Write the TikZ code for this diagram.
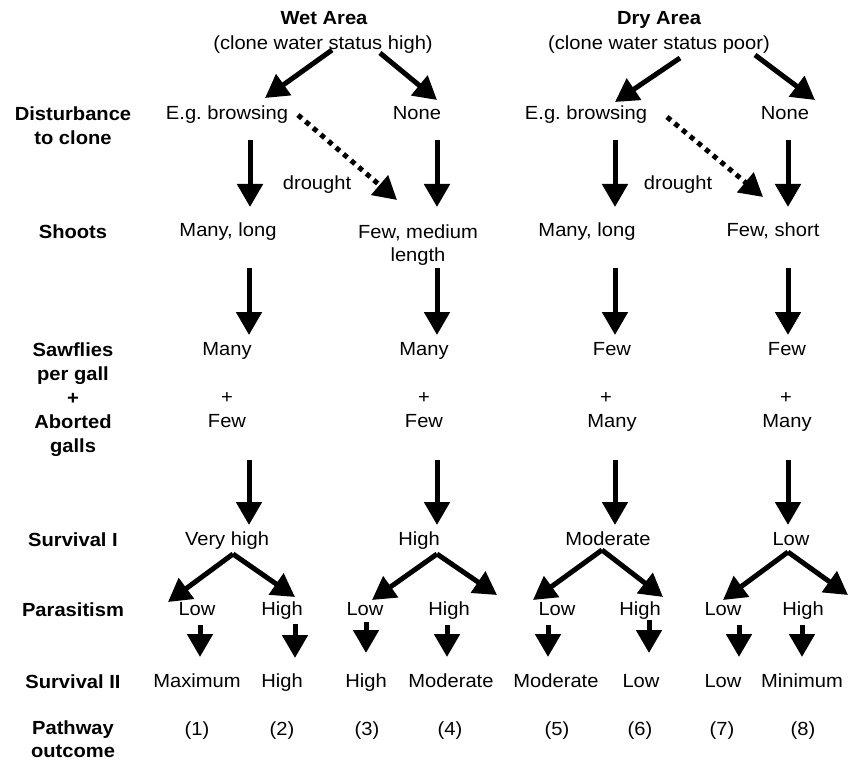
\documentclass[tikz,border=0pt]{standalone}
\usepackage{fontspec}
\setmainfont{Liberation Sans}[FakeStretch=1.06]
\usetikzlibrary{arrows.meta, positioning,
calc % for the arrow ends next to the words
}
\tikzset{%
  big/.style={line width=5pt, -{Triangle[length=23pt, width=25pt]}}, % the solid black arrows
  dots/.style={line width=5pt, dash pattern=on 5pt off 5pt, -{Triangle[length=23pt, width=25pt]}}, % drought
  val/.style={inner sep=0pt, text height=14pt, text depth=4pt, font=\fontsize{19}{24}\selectfont},
  lab/.style={inner sep=0pt, align=center, font=\fontsize{19}{24}\selectfont\bfseries}
}

\begin{document}
\begin{tikzpicture}[x=1pt, y=-1pt]
\useasboundingbox (0,0) rectangle (849,762);

% headings
\node[val, font=\fontsize{19}{24}\selectfont\bfseries] (h0) at (324,20) {Wet Area};
\node[val] (h0s) at (323,45) {(clone water status high)};
\node[val, font=\fontsize{19}{24}\selectfont\bfseries] (h1) at (659,20) {Dry Area};
\node[val] (h1s) at (659,45) {(clone water status poor)};

% row labels
\node[lab] (l0) at (73,125.5) {Disturbance\\to clone};
\node[lab] (l1) at (73,232) {Shoots};
\node[lab] (l2) at (73,399.5) {Sawflies\\per gall\\+\\Aborted\\galls};
\node[lab] (l3) at (73,540) {Survival I};
\node[lab] (l4) at (73,610) {Parasitism};
\node[lab] (l5) at (73,682) {Survival II};
\node[lab, font=\fontsize{19}{23}\selectfont\bfseries] (l6) at (73,739.5) {Pathway\\outcome};

% wet area
\node[val] (a0) at (227,115) {E.g.\ browsing};
\node[val] (b0) at (417,115) {None};
\node[val] (a1) at (228,232) {Many, long};
\node[inner sep=0pt, align=center, font=\fontsize{19}{23}\selectfont] (b1) at (418,245.5) {Few, medium\\length};
\node[val] (a2) at (227,350) {Many};
\node[val] (b2) at (424,350) {Many};
\node[val] (a3) at (227,398) {+};
\node[val] (b3) at (424,398) {+};
\node[val] (a4) at (227,422) {Few};
\node[val] (b4) at (424,422) {Few};
\node[val] (a5) at (227,540) {Very high};
\node[val] (b5) at (419,540) {High};
\node[val] (t0) at (317,185) {drought};

% dry area
\node[val] (c0) at (586,115) {E.g.\ browsing};
\node[val] (d0) at (785,115) {None};
\node[val] (c1) at (587,232) {Many, long};
\node[val] (d1) at (773,232) {Few, short};
\node[val] (c2) at (612,350) {Few};
\node[val] (d2) at (787,350) {Few};
\node[val] (c3) at (606,398) {+};
\node[val] (d3) at (786,398) {+};
\node[val] (c4) at (612,422) {Many};
\node[val] (d4) at (787,422) {Many};
\node[val] (c5) at (608,540) {Moderate};
\node[val] (d5) at (791,540) {Low};
\node[val] (t1) at (678,185) {drought};

% parasitism, survival II, outcome
\node[val] (p1) at (197,610) {Low};
\node[val] (p2) at (282,610) {High};
\node[val] (p3) at (365,610) {Low};
\node[val] (p4) at (449,610) {High};
\node[val] (p5) at (557,610) {Low};
\node[val] (p6) at (640,610) {High};
\node[val] (p7) at (723,610) {Low};
\node[val] (p8) at (803,610) {High};

\node[val] (s1) at (197,682) {Maximum};
\node[val] (s2) at (282,682) {High};
\node[val] (s3) at (366,682) {High};
\node[val] (s4) at (451,682) {Moderate};
\node[val] (s5) at (556,682) {Moderate};
\node[val] (s6) at (641,682) {Low};
\node[val] (s7) at (723,682) {Low};
\node[val] (s8) at (802,682) {Minimum};

\node[val] (o1) at (197,730) {(1)};
\node[val] (o2) at (282,730) {(2)};
\node[val] (o3) at (367,730) {(3)};
\node[val] (o4) at (450,730) {(4)};
\node[val] (o5) at (557,730) {(5)};
\node[val] (o6) at (640,730) {(6)};
\node[val] (o7) at (722,730) {(7)};
\node[val] (o8) at (803,730) {(8)};

% arrows from the headings
\draw[big] ($(h0s)+(9,5)$) -- ($(a0)+(38,-17)$);
\draw[big] ($(h0s)+(57,8)$) -- ($(b0)+(20,-15)$);
\draw[big] ($(h1s)+(21,13)$) -- ($(c0)+(29,-13)$);
\draw[big] ($(h1s)+(96,10)$) -- ($(d0)+(30,-15)$);

\draw[dots] ($(a0)+(71,0)$) -- ($(b1)+(-21,-45.5)$);
\draw[dots] ($(c0)+(81,2)$) -- ($(d1)+(-10,-35)$);

% down the columns
\draw[big] ($(a0)+(23,25)$) -- ($(a1)+(22,-25)$);
\draw[big] ($(b0)+(20,25)$) -- ($(b1)+(19,-38.5)$);
\draw[big] ($(c0)+(29,25)$) -- ($(c1)+(28,-25)$);
\draw[big] ($(d0)+(3,25)$) -- ($(d1)+(15,-25)$);

\draw[big] ($(a1)+(21,36)$) -- ($(a2)+(22,-15)$);
\draw[big] ($(b1)+(19,22.5)$) -- ($(b2)+(13,-15)$);
\draw[big] ($(c1)+(28,36)$) -- ($(c2)+(3,-15)$);
\draw[big] ($(d1)+(15,36)$) -- ($(d2)+(1,-15)$);

\draw[big] ($(a4)+(22,38)$) -- ($(a5)+(22,-15)$);
\draw[big] ($(b4)+(13,38)$) -- ($(b5)+(18,-15)$);
\draw[big] ($(c4)+(3,38)$) -- ($(c5)+(7,-15)$);
\draw[big] ($(d4)+(1,38)$) -- ($(d5)+(-3,-15)$);

% survival I to parasitism
\draw[big] ($(a5)+(6,14)$) -- ($(p1)+(-29,-8)$);
\draw[big] ($(a5)+(6,14)$) -- ($(p2)+(13,-13)$);
\draw[big] ($(b5)+(18,14)$) -- ($(p3)+(7,-10)$);
\draw[big] ($(b5)+(18,14)$) -- ($(p4)+(48,-15)$);
\draw[big] ($(c5)+(-6,10)$) -- ($(p5)+(-24,-10)$);
\draw[big] ($(c5)+(-6,10)$) -- ($(p6)+(23,-13)$);
\draw[big] ($(d5)+(-3,12)$) -- ($(p7)+(0,-10)$);
\draw[big] ($(d5)+(-3,12)$) -- ($(p8)+(45,-15)$);

% parasitism to survival II
\draw[big] ($(p1)+(3,15)$) -- ($(s1)+(3,-25)$);
\draw[big] ($(p2)+(13,14)$) -- ($(s2)+(13,-24)$);
\draw[big] ($(p3)+(1,12)$) -- ($(s3)+(0,-29)$);
\draw[big] ($(p4)+(-2,15)$) -- ($(s4)+(-4,-25)$);
\draw[big] ($(p5)+(-9,15)$) -- ($(s5)+(-8,-25)$);
\draw[big] ($(p6)+(9,10)$) -- ($(s6)+(8,-29)$);
\draw[big] ($(p7)+(16,15)$) -- ($(s7)+(16,-25)$);
\draw[big] ($(p8)+(-1,15)$) -- ($(s8)+(0,-25)$);

\end{tikzpicture}
\end{document}
